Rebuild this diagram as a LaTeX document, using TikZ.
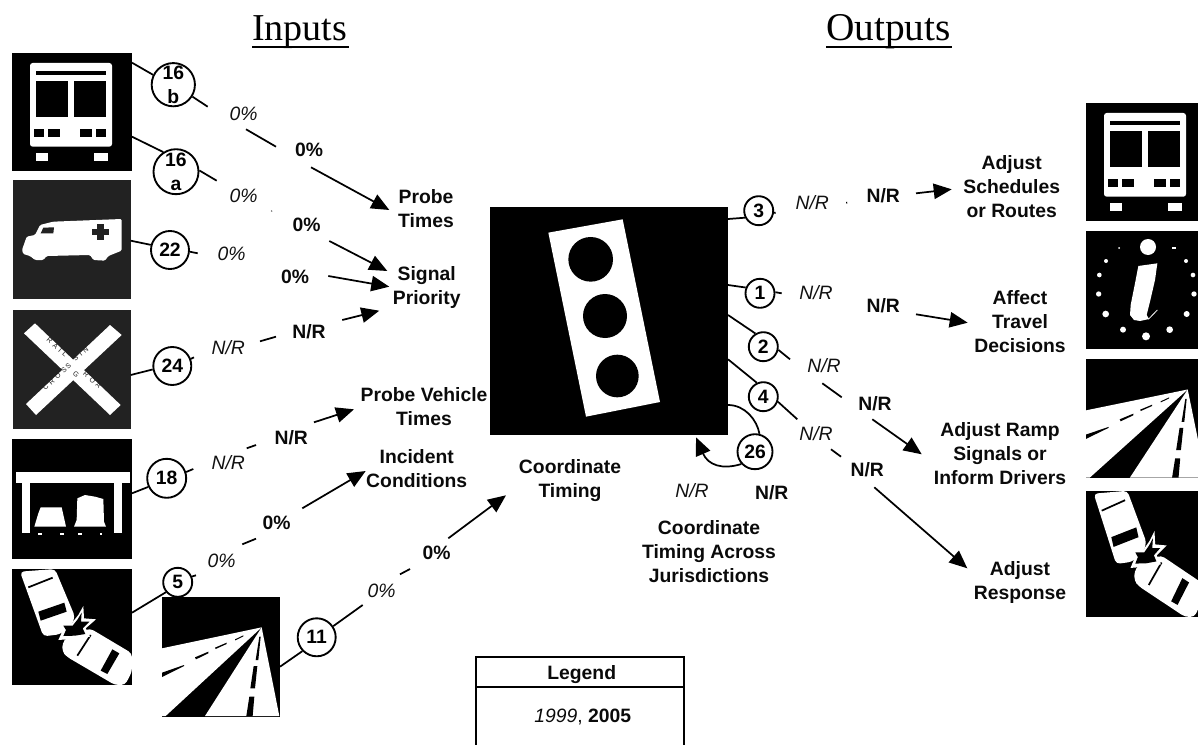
\documentclass[tikz,border=0pt]{standalone}
\usepackage{fontspec}
\setmainfont{Liberation Sans}
\newfontfamily\serifttl{Liberation Serif}
\usetikzlibrary{arrows.meta}
\definecolor{ink}{HTML}{0A0A0A}
\definecolor{italink}{HTML}{111111}
\definecolor{panel}{HTML}{222222}
\tikzset{
  conn/.style={line width=1.3pt,draw=black},
  arrowconn/.style={conn,-{Triangle[length=13.5pt,width=11.5pt]}},
  num/.style={circle,draw=black,fill=white,line width=1.4pt,inner sep=0pt,text=black,align=center,
     font=\fontsize{14.5}{18}\selectfont\bfseries},
  lab/.style={inner sep=0pt,align=center,text=ink,yshift=-1.6pt,font=\fontsize{14.5}{18}\selectfont\bfseries,
     execute at begin node=\strut,execute at end node=\strut},
  old/.style={inner sep=0pt,text=italink,yshift=-1.6pt,font=\fontsize{14.5}{18}\selectfont\itshape,
     execute at begin node=\strut,execute at end node=\strut},
  new/.style={lab},
  ttl/.style={inner sep=0pt,anchor=base,text=black,font=\fontsize{28.5}{32}\serifttl},
  legendline/.style={draw=black,line width=1.4pt},
  rrtext/.style={inner sep=0pt,text=panel,font=\fontsize{5.25}{6}\selectfont\addfontfeature{LetterSpace=45}}
}
% icons are drawn in 3x coordinates, as in the crops
\newcommand{\iconbus}{%
  \fill[black] (36,40) rectangle (396,392);
  \fill[white,rounded corners=2pt] (90,69) rectangle (336,320);
  \fill[black] (108,93) rectangle (318,105);
  \fill[black] (108,123) rectangle (204,230);
  \fill[black] (222,123) rectangle (318,230);
  \fill[black] (102,267) rectangle (132,290);
  \fill[black] (144,267) rectangle (180,290);
  \fill[black] (240,267) rectangle (276,290);
  \fill[black] (288,267) rectangle (318,290);
  \fill[white] (108,340) rectangle (144,362);
  \fill[white] (282,340) rectangle (324,362);
}
\newcommand{\iconinfo}{%
  \fill[black] (138,333) rectangle (480,687);
  \fill[white] (324,381) circle (24);
  \fill[white] (237,384) circle (3);
  \fill[white] (396,381) rectangle (408,387);
  \fill[white] (198,423) circle (6);
  \fill[white] (438,423) circle (6);
  \fill[white] (178,465) circle (7);
  \fill[white] (459,465) circle (7);
  \fill[white] (176,522) circle (8);
  \fill[white] (462,522) circle (8);
  \fill[white] (197,582) circle (10);
  \fill[white] (440,582) circle (9);
  \fill[white] (249,629) circle (9);
  \fill[white] (389,629) circle (10);
  \fill[white] (318,649) circle (12);
  \fill[white] (295,438) -- (352,430) -- (345,480) -- (330,545) -- (320,585) -- (327,597)
     -- (300,603) -- (282,600) -- (270,585) -- (272,555) -- (285,490) -- cycle;
  \draw[white,line width=.6pt] (325,598) -- (352,570);
}
\newcommand{\iconroad}{%
  \fill[black] (486,890) rectangle (840,1250);
  \fill[white] (486,1045) -- (785,982) -- (497,1248) -- (486,1248) -- cycle;
  \fill[white] (785,982) -- (615,1248) -- (838,1248) -- cycle;
  \fill[black] (486,1118) -- (552,1095) -- (552,1098) -- (486,1131) -- cycle;
  \fill[black] (585,1072) -- (625,1055) -- (625,1060) -- (588,1078) -- cycle;
  \fill[black] (645,1043) -- (680,1028) -- (680,1032) -- (647,1047) -- cycle;
  \fill[black] (705,1018) -- (730,1006) -- (730,1009) -- (706,1021) -- cycle;
  \fill[black] (739,1248) -- (758,1248) -- (763,1190) -- (748,1190) -- cycle;
  \fill[black] (751,1165) -- (765,1165) -- (772,1098) -- (761,1098) -- cycle;
  \fill[black] (767,1080) -- (775,1080) -- (782,1010) -- (778,1010) -- cycle;
}
\newcommand{\iconcrash}{%
  \fill[black] (36,807) rectangle (396,1155);
  \fill[white,rounded corners=3pt] (60,815) -- (165,807) -- (225,950) -- (215,975) -- (180,1003) -- (130,1009) -- cycle;
  \draw[black,line width=1.3pt] (85,862) -- (158,833);
  \fill[black] (115,935) -- (193,908) -- (200,935) -- (122,962) -- cycle;
  \fill[white,rounded corners=3pt] (187,1030) -- (200,1012) -- (270,985) -- (396,1060) -- (396,1115) -- (375,1155) -- (345,1155) -- (200,1070) -- (187,1055) -- cycle;
  \draw[black,line width=1.3pt] (232,1067) -- (272,1005);
  \fill[black] (302,1112) -- (337,1048) -- (358,1060) -- (322,1122) -- cycle;
  \fill[white] (250,918) -- (252,955) -- (288,958) -- (257,985) -- (270,1010) -- (228,1016) -- (175,1020)
     -- (188,992) -- (178,968) -- (215,970) -- (235,945) -- cycle;
  \fill[black] (245,938) -- (243,965) -- (268,965) -- (248,985) -- (256,1002) -- (225,1007) -- (190,1008)
     -- (198,990) -- (190,977) -- (218,977) -- (233,958) -- cycle;
}
\begin{document}
\begin{tikzpicture}[x=.75pt,y=-.75pt]
\useasboundingbox (0,0) rectangle (1198,745);
\clip (0,0) rectangle (1198,745);

% titles
\node[ttl] (tInputs) at (299.5,41) {Inputs};
\node[ttl,font=\fontsize{29.5}{32}\serifttl] (tOutputs) at (888.5,41) {Outputs};
\draw[conn] (252,46.7) -- (349,46.7);
\draw[conn] (826,46.7) -- (952,46.7);

% left icons
\begin{scope}[shift={(0,40)},x=.25pt,y=-.25pt]
  \iconbus
  \fill[panel] (40,420) rectangle (392,778);
  \fill[white,rounded corners=1pt] (66,630) -- (80,590) -- (105,585) -- (120,555) -- (160,545) -- (365,537)
     -- (365,632) -- (325,648) -- (315,662) -- (280,660) -- (270,645) -- (140,648) -- (130,660) -- (105,660) -- (90,648) -- (70,642) -- cycle;
  \fill[panel] (122,580) -- (130,563) -- (162,562) -- (160,580) -- cycle;
  \fill[panel] (290,552) rectangle (312,600);
  \fill[panel] (275,568) rectangle (327,584);
\end{scope}
\begin{scope}[shift={(0,300)},x=.25pt,y=-.25pt]
  \fill[panel] (39,30) rectangle (392,388);
  \fill[white] (72,100) -- (105,70) -- (362,315) -- (330,345) -- cycle;
  \fill[white] (330,75) -- (365,105) -- (108,345) -- (78,312) -- cycle;
  \node[rrtext,rotate=-42] (rrA) at (171,141.6) {RAIL};
  \node[rrtext,rotate=40] (rrB) at (242,163) {SIN};
  \node[rrtext,rotate=42] (rrC) at (164,237) {CROS};
  \node[rrtext,rotate=42] (rrD) at (205,198) {S};
  \node[rrtext,rotate=-40] (rrE) at (228,223) {G};
  \node[rrtext,rotate=-42] (rrF) at (277,240) {ROA};
  % shelter
  \fill[black] (36,417) rectangle (396,776);
  \fill[white] (48,515) rectangle (390,548);
  \fill[white] (65,548) rectangle (90,698);
  \fill[white] (342,548) rectangle (366,698);
  \fill[white] (122,622) -- (185,622) -- (198,680) -- (103,680) -- (115,640) -- cycle;
  \fill[white] (232,595) -- (255,585) -- (285,590) -- (310,597) -- (312,665) -- (318,680) -- (222,680) -- (230,660) -- cycle;
  \fill[white] (115,699) rectangle (127,704);
  \fill[white] (180,699) rectangle (192,704);
  \fill[white] (235,699) rectangle (245,704);
  \fill[white] (300,699) rectangle (307,704);
  \iconcrash
  \iconroad
\end{scope}

% right icons
\begin{scope}[shift={(1074,90)},x=.25pt,y=-.25pt]\iconbus\end{scope}
\begin{scope}[shift={(1040,120)},x=.25pt,y=-.25pt]\iconinfo\end{scope}
\begin{scope}[shift={(920.8,64.1)},x=.255pt,y=-.2485pt]\iconroad\end{scope}
\begin{scope}[shift={(1074.5,198.3)},x=.24pt,y=-.2718pt]\iconcrash\end{scope}

% labels that the signal panel overlaps
\node[lab] (lProbeVeh) at (424,408.3) {Probe Vehicle\\Times};

% signal panel
\begin{scope}[shift={(480,190)},x=.25pt,y=-.25pt]
  \fill[black] (30,52) rectangle (744,735);
  \fill[white] (205,128) -- (428,88) -- (540,636) -- (318,680) -- cycle;
  \fill[black] (332,208) circle (67);
  \fill[black] (375,378) circle (66);
  \fill[black] (412,558) circle (64);
\end{scope}

% number nodes
\node[num,minimum size=43*.75pt] (n16b) at (173.3,84.7) {16\\b};
\node[num,minimum size=45*.75pt] (n16a) at (176,171.7) {16\\a};
\node[num,minimum size=38*.75pt] (n22) at (170,250) {22};
\node[num,minimum size=38*.75pt] (n24) at (172.3,366) {24};
\node[num,minimum size=39*.75pt] (n18) at (166.7,478.3) {18};
\node[num,minimum size=29*.75pt] (n5) at (177.7,582.3) {5};
\node[num,minimum size=38*.75pt] (n11) at (316.7,637.3) {11};
\node[num,minimum size=29*.75pt] (n3) at (758.7,210.7) {3};
\node[num,minimum size=29*.75pt] (n1) at (760,293.3) {1};
\node[num,minimum size=29*.75pt] (n2) at (763.3,346.7) {2};
\node[num,minimum size=29*.75pt] (n4) at (763.3,396.7) {4};
\node[num,minimum size=35*.75pt] (n26) at (755,451.7) {26};

% text labels
\node[lab] (lProbe) at (426,210.3) {Probe\\Times};
\node[lab] (lSignal) at (426.7,286.5) {Signal\\Priority};
\node[lab] (lIncident) at (416.7,470) {Incident\\Conditions};
\node[lab] (lCoord) at (570,480) {Coordinate\\Timing};
\node[lab] (lCoordAcross) at (709,552.5) {Coordinate\\Timing Across\\Jurisdictions};
\node[lab] (lSched) at (1011.7,188.3) {Adjust\\Schedules\\or Routes};
\node[lab] (lAffect) at (1020,322.5) {Affect\\Travel\\Decisions};
\node[lab] (lRamp) at (1000,454.5) {Adjust Ramp\\Signals or\\Inform Drivers};
\node[lab] (lResp) at (1020,582) {Adjust\\Response};

% year values
\node[old] (o16b) at (243.7,114) {0\%};
\node[new] (b16b) at (309,150) {0\%};
\node[old] (o16a) at (243.7,196) {0\%};
\node[new] (b16a) at (306.7,224.3) {0\%};
\node[old] (o22) at (231.7,254) {0\%};
\node[new] (b22) at (295,277) {0\%};
\node[old] (o24) at (228.3,348) {N/R};
\node[new] (b24) at (309,332) {N/R};
\node[old] (o18) at (228.3,462.3) {N/R};
\node[new] (b18) at (291.3,438) {N/R};
\node[old] (o5) at (221.7,560.3) {0\%};
\node[new] (b5) at (276.7,522.3) {0\%};
\node[old] (o11) at (381.7,590.7) {0\%};
\node[new] (b11) at (436.7,552.3) {0\%};
\node[old] (o3) at (812.3,202.3) {N/R};
\node[new] (b3) at (883.3,196) {N/R};
\node[old] (o1) at (816,292.3) {N/R};
\node[new] (b1) at (883.3,306) {N/R};
\node[old] (o2) at (824,366) {N/R};
\node[new] (b2) at (875,404) {N/R};
\node[old] (o4) at (816,434) {N/R};
\node[new] (b4) at (867.3,470) {N/R};
\node[old] (o26) at (692,491) {N/R};
\node[new] (b26) at (771.7,492.7) {N/R};

% connector end points
\coordinate (a16b) at (132,62.7);
\coordinate (c16b) at (207.7,106.7);
\coordinate (d16b) at (246,129.3);
\coordinate (e16b) at (276,146.7);
\coordinate (f16b) at (311,167.3);
\coordinate (g16b) at (389.3,210);
\draw[conn] (a16b) -- (n16b.154);
\draw[conn] (n16b.-32) -- (c16b);
\draw[conn] (d16b) -- (e16b);
\draw[arrowconn] (f16b) -- (g16b);

\coordinate (a16a) at (132,136.7);
\coordinate (c16a) at (216.7,180.7);
\coordinate (d16a) at (271,210.8);
\coordinate (e16a) at (272.2,211.3);
\coordinate (f16a) at (329.3,241);
\coordinate (g16a) at (387.3,271);
\draw[conn] (a16a) -- (n16a.123);
\draw[conn] (n16a.3) -- (c16a);
\draw[conn,line width=.5pt] (d16a) -- (e16a);
\draw[arrowconn] (f16a) -- (g16a);

\coordinate (a22) at (130.7,240.7);
\coordinate (c22) at (197.7,253.3);
\coordinate (f22) at (328.3,276);
\coordinate (g22) at (389.3,286.7);
\draw[conn] (a22) -- (n22.165);
\draw[conn] (n22.-5) -- (c22);
\draw[arrowconn] (f22) -- (g22);

\coordinate (a24) at (130.7,375);
\coordinate (c24) at (194,357.3);
\coordinate (d24) at (260,341.3);
\coordinate (e24) at (276,336.7);
\coordinate (f24) at (342.3,320);
\coordinate (g24) at (379.3,310.7);
\draw[conn] (a24) -- (n24.190);
\draw[conn] (n24.21) -- (c24);
\draw[conn] (d24) -- (e24);
\draw[arrowconn] (f24) -- (g24);

\coordinate (a18) at (132,493.3);
\coordinate (c18) at (193.3,469);
\coordinate (d18) at (246.7,448.3);
\coordinate (e18) at (256,445);
\coordinate (f18) at (314,422.3);
\coordinate (g18) at (354,409.3);
\draw[conn] (a18) -- (n18.205);
\draw[conn] (n18.18) -- (c18);
\draw[conn] (d18) -- (e18);
\draw[arrowconn] (f18) -- (g18);

\coordinate (a5) at (132,612.7);
\coordinate (c5) at (196,575.3);
\coordinate (d5) at (242.3,544.3);
\coordinate (e5) at (256,538.7);
\coordinate (f5) at (302.3,508.3);
\coordinate (g5) at (365.7,471);
\draw[conn] (a5) -- (n5.220);
\draw[conn] (n5.22) -- (c5);
\draw[conn] (d5) -- (e5);
\draw[arrowconn] (f5) -- (g5);

\coordinate (a11) at (280,666.7);
\coordinate (c11) at (362.7,605);
\coordinate (d11) at (400,574.3);
\coordinate (e11) at (410,569);
\coordinate (f11) at (448.3,538.3);
\coordinate (g11) at (506,495.3);
\draw[conn] (a11) -- (n11.224);
\draw[conn] (n11.34) -- (c11);
\draw[conn] (d11) -- (e11);
\draw[arrowconn] (f11) -- (g11);

\coordinate (a3) at (728,219);
\coordinate (c3) at (775.7,212.7);
\coordinate (d3) at (846.2,202.8);
\coordinate (e3) at (847.2,202.6);
\coordinate (f3) at (916,193.3);
\coordinate (g3) at (951.7,189.3);
\draw[conn] (a3) -- (n3.207);
\draw[conn] (n3.-8) -- (c3);
\draw[conn] (d3) -- (e3);
\draw[arrowconn] (f3) -- (g3);

\coordinate (a1) at (728,285);
\coordinate (c1) at (781.7,293.3);
\coordinate (f1) at (916,314.3);
\coordinate (g1) at (967.7,322.7);
\draw[conn] (a1) -- (n1.158);
\draw[conn] (n1.4) -- (c1);
\draw[arrowconn] (f1) -- (g1);

\coordinate (a2) at (728,315);
\coordinate (c2) at (790,359.3);
\coordinate (d2) at (822.3,383.3);
\coordinate (e2) at (841.7,397.3);
\coordinate (f2) at (872.3,419.3);
\coordinate (g2) at (921.7,454.3);
\draw[conn] (a2) -- (n2.121);
\draw[conn] (n2.-12) -- (c2);
\draw[conn] (d2) -- (e2);
\draw[arrowconn] (f2) -- (g2);

\coordinate (a4) at (728,359.3);
\coordinate (c4) at (797.3,419.3);
\coordinate (d4) at (831,449.3);
\coordinate (e4) at (841,456.7);
\coordinate (f4) at (874.3,487.3);
\coordinate (g4) at (967.3,568.3);
\draw[conn] (a4) -- (n4.115);
\draw[conn] (n4.-19) -- (c4);
\draw[conn] (d4) -- (e4);
\draw[arrowconn] (f4) -- (g4);

\coordinate (a26) at (728,405);
\coordinate (g26) at (696,437.3);
\draw[conn] (a26) .. controls (745,405) and (757,420) .. (n26.76);
\draw[arrowconn] (n26.222) .. controls (722,470) and (708,465) .. (g26);

% legend
\draw[legendline] (475.7,760) -- (475.7,656.7) -- (684,656.7) -- (684,760);
\draw[legendline] (475.7,687) -- (684,687);
\node[lab] (lLegend) at (581.7,672.3) {Legend};
\node[lab,font=\fontsize{14.5}{18}\selectfont] (lYears) at (582.7,716) {\textit{1999}, \textbf{2005}};
\end{tikzpicture}
\end{document}
